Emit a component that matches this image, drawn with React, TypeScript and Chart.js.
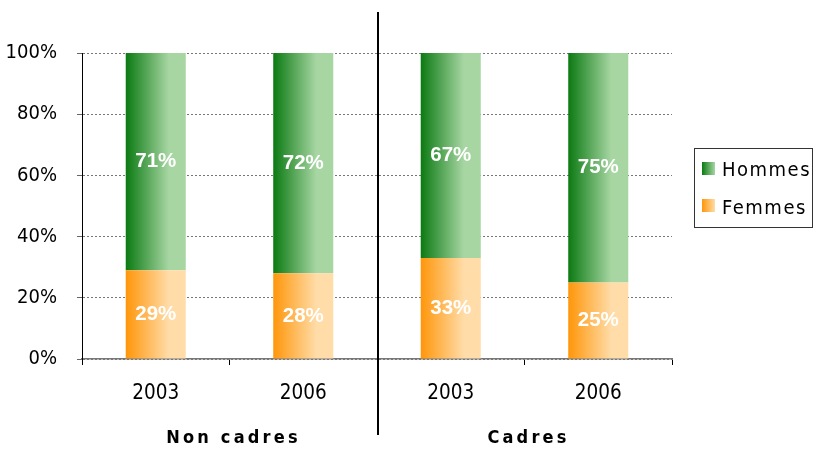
import React, { useEffect, useRef } from "react";
import { Chart, registerables } from "chart.js";

Chart.register(...registerables);

const categories = ["2003", "2006", "2003", "2006"];
const groups = ["Non cadres", "Cadres"];
const hommes = [71, 72, 67, 75];
const femmes = [29, 28, 33, 25];
const seriesNames = ["Femmes", "Hommes"];

const GREEN = ["#0b7a12", "#a7d6a3"];
const ORANGE = ["#ff960a", "#ffdca8"];
const BAR_PCT = 0.407;
const FONT = "'DejaVu Sans Condensed', 'DejaVu Sans', 'Open Sans', sans-serif";

function gradFor(chart: any, idx: number, cols: string[]) {
  const xs = chart.scales?.x;
  if (!xs || !chart.chartArea) return cols[0];
  const c = xs.getPixelForValue(idx);
  const w = (xs.width / categories.length) * BAR_PCT;
  const g = chart.ctx.createLinearGradient(c - w / 2, 0, c + w / 2, 0);
  g.addColorStop(0, cols[0]);
  g.addColorStop(0.72, cols[1]);
  g.addColorStop(1, cols[1]);
  return g;
}

const extras = {
  id: "extras",
  afterDatasetsDraw(chart: any) {
    const ctx = chart.ctx;
    ctx.save();
    ctx.fillStyle = "#ffffff";
    ctx.font = "bold 20.5px 'Liberation Sans', Arial, sans-serif";
    ctx.textAlign = "center";
    ctx.textBaseline = "middle";
    chart.data.datasets.forEach((ds: any, di: number) => {
      const meta = chart.getDatasetMeta(di);
      meta.data.forEach((el: any, i: number) => {
        const y = (el.y + el.base) / 2;
        ctx.fillText(ds.data[i] + "%", el.x, y);
      });
    });
    ctx.restore();
  },
  afterDraw(chart: any) {
    const ctx = chart.ctx;
    const xs = chart.scales.x;
    ctx.save();
    // separator
    const sep = (xs.getPixelForValue(1) + xs.getPixelForValue(2)) / 2 + 1;
    ctx.strokeStyle = "#000";
    ctx.lineWidth = 2;
    ctx.beginPath();
    ctx.moveTo(sep, 12);
    ctx.lineTo(sep, 435);
    ctx.stroke();
    // group labels
    ctx.fillStyle = "#000";
    ctx.font = `bold 18px ${FONT}`;
    (ctx as any).letterSpacing = "3.2px";
    ctx.textAlign = "center";
    ctx.textBaseline = "middle";
    groups.forEach((g, gi) => {
      const cx = (xs.getPixelForValue(gi * 2) + xs.getPixelForValue(gi * 2 + 1)) / 2 + 4;
      ctx.fillText(g, cx, 438);
    });
    // legend
    ctx.strokeStyle = "#333";
    ctx.lineWidth = 1;
    ctx.strokeRect(694.5, 148.5, 118, 79);
    (ctx as any).letterSpacing = "1.5px";
    ctx.font = `20px ${FONT}`;
    ctx.textAlign = "left";
    const items = [
      { label: chart.data.datasets[1].label, cols: GREEN, y: 171, sy: 162 },
      { label: chart.data.datasets[0].label, cols: ORANGE, y: 209, sy: 199 },
    ];
    items.forEach((it) => {
      const g = ctx.createLinearGradient(702, 0, 715, 0);
      g.addColorStop(0, it.cols[0]);
      g.addColorStop(1, it.cols[1]);
      ctx.fillStyle = g;
      ctx.fillRect(702, it.sy, 13, 13);
      ctx.fillStyle = "#000";
      ctx.fillText(it.label, 722, it.y);
    });
    ctx.restore();
  },
};

export default function App() {
  const ref = useRef<HTMLCanvasElement>(null);
  useEffect(() => {
    if (!ref.current) return;
    const chart = new Chart(ref.current, {
      type: "bar",
      data: {
        labels: categories,
        datasets: [
          {
            label: seriesNames[0],
            data: femmes,
            backgroundColor: (c: any) => gradFor(c.chart, c.dataIndex, ORANGE),
            borderWidth: 0,
          },
          {
            label: seriesNames[1],
            data: hommes,
            backgroundColor: (c: any) => gradFor(c.chart, c.dataIndex, GREEN),
            borderWidth: 0,
          },
        ],
      },
      options: {
        responsive: false,
        animation: false,
        devicePixelRatio: 1,
        layout: { padding: { left: 0, top: 53, right: 141, bottom: 0 } },
        plugins: { legend: { display: false }, tooltip: { enabled: false } },
        datasets: { bar: { categoryPercentage: 1, barPercentage: BAR_PCT } },
        scales: {
          x: {
            stacked: true,
            grid: {
              display: true,
              offset: true,
              drawOnChartArea: false,
              drawTicks: true,
              tickLength: 6,
              tickColor: "#000",
            },
            border: { color: "#777", width: 1.5 },
            ticks: { color: "#000", font: { family: FONT, size: 20.5 }, padding: 16 },
            afterFit: (s: any) => {
              s.height = 91;
            },
          },
          y: {
            stacked: true,
            min: 0,
            max: 100,
            grid: {
              color: "#777",
              lineWidth: 1,
              tickLength: 5,
              tickColor: "#666",
              tickBorderDash: [],
            },
            border: { color: "#000", width: 1, dash: [2, 2] as any },
            ticks: {
              stepSize: 20,
              color: "#000",
              padding: 20,
              font: { family: FONT, size: 20 },
              callback: (v: any) => v + "%",
            },
            afterFit: (s: any) => {
              s.width = 82;
            },
          },
        },
      } as any,
      plugins: [extras],
    });
    return () => chart.destroy();
  }, []);
  return (
    <div style={{ position: "absolute", left: 0, top: 0, width: 813, height: 450 }}>
      <canvas ref={ref} width={813} height={450} />
    </div>
  );
}
